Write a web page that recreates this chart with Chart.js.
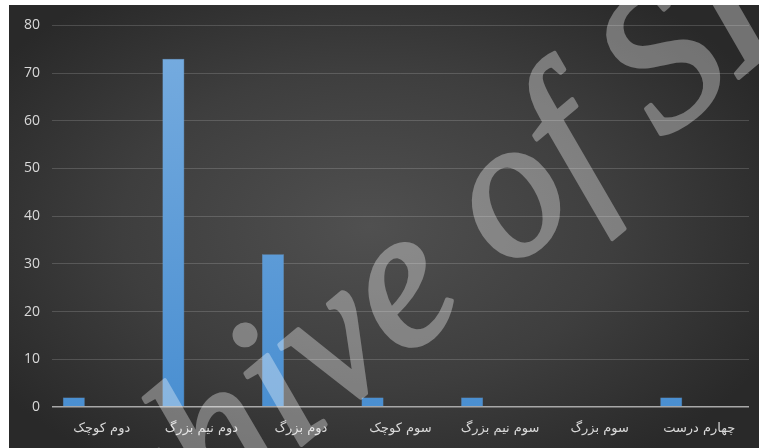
<!DOCTYPE html>
<html lang="fa">

<head>
    <meta charset="UTF-8">
    <title>فواصل</title>
    <script src="https://cdn.jsdelivr.net/npm/chart.js"></script>
    <style>
        html, body { margin: 0; padding: 0; background: #fff; }
        .quadro {
            position: absolute;
            left: 9px;
            top: 5px;
            width: 750px;
            height: 443px;
            background: radial-gradient(ellipse 60% 65% at 48% 50%, #505050 0%, #3e3e3e 55%, #292929 100%);
        }
    </style>
</head>

<body>
    <div class="quadro">
        <canvas id="grafico" width="750" height="443"></canvas>
    </div>

    <script>
        // categorias e valores
        const categorias = ['دوم کوچک', 'دوم نیم بزرگ', 'دوم بزرگ', 'سوم کوچک', 'سوم نیم بزرگ', 'سوم بزرگ', 'چهارم درست'];
        const valores = [2, 73, 32, 2, 2, 0, 2];
        const vazio = [null, null, null, null, null, null, null];
        const ticksY = [0, 10, 20, 30, 40, 50, 60, 70, 80];

        // marca d'agua diagonal (desenhada num canvas auxiliar e depois aplicada com transparencia)
        const marcaDagua = {
            id: 'marcaDagua',
            afterDraw(chart) {
                const ctx = chart.ctx;
                const aux = document.createElement('canvas');
                aux.width = chart.width;
                aux.height = chart.height;
                const a = aux.getContext('2d');
                const ang = -40 * Math.PI / 180;
                a.font = 'italic 198px "Liberation Serif"';
                const pre = a.measureText('Archiv').width;
                const eW = a.measureText('e').width;
                const ux = Math.cos(ang), uy = Math.sin(ang);
                const bx = 436 - 9, by = 332 - 5;
                const ox = bx - (pre + eW / 2) * ux;
                const oy = by - (pre + eW / 2) * uy;
                a.translate(ox, oy);
                a.rotate(ang);
                a.fillStyle = '#fff';
                a.strokeStyle = '#fff';
                a.lineWidth = 4;
                a.lineJoin = 'round';
                a.fillText('Archive of SID', 0, 0);
                a.strokeText('Archive of SID', 0, 0);
                ctx.save();
                ctx.globalAlpha = 0.34;
                ctx.drawImage(aux, 0, 0);
                ctx.restore();
            }
        };

        function corBarra(context) {
            const area = context.chart.chartArea;
            if (!area) return '#5b9bd5';
            const g = context.chart.ctx.createLinearGradient(0, area.top, 0, area.bottom);
            g.addColorStop(0, '#78ade0');
            g.addColorStop(1, '#4a8fd1');
            return g;
        }

        const ctx = document.getElementById('grafico').getContext('2d');
        new Chart(ctx, {
            type: 'bar',
            data: {
                labels: categorias,
                datasets: [
                    { data: valores, backgroundColor: corBarra, borderColor: 'rgba(110,165,220,0.9)', borderWidth: 0.5 },
                    { data: vazio },
                    { data: vazio }
                ]
            },
            options: {
                responsive: false,
                animation: false,
                categoryPercentage: 0.843,
                barPercentage: 0.786,
                layout: { padding: { top: 19, right: 10, left: 0, bottom: 0 } },
                plugins: {
                    legend: { display: false },
                    tooltip: { enabled: false }
                },
                scales: {
                    x: {
                        grid: { display: false },
                        border: { display: false },
                        ticks: {
                            color: '#d9d9d9',
                            font: { family: '"DejaVu Sans"', size: 13 },
                            padding: 6,
                            maxRotation: 0,
                            autoSkip: false
                        },
                        afterFit(scale) { scale.height = 41; }
                    },
                    y: {
                        min: 0,
                        max: 80,
                        afterBuildTicks(scale) { scale.ticks = ticksY.map(v => ({ value: v })); },
                        grid: {
                            drawTicks: false,
                            color: ctx => ctx.tick && ctx.tick.value === 0 ? '#a8a8a8' : 'rgba(255,255,255,0.16)',
                            lineWidth: ctx => ctx.tick && ctx.tick.value === 0 ? 1.5 : 1
                        },
                        border: { display: false },
                        ticks: {
                            color: '#d9d9d9',
                            font: { family: '"Open Sans"', size: 14 },
                            padding: 12
                        },
                        afterFit(scale) { scale.width = 43; }
                    }
                }
            },
            plugins: [marcaDagua]
        });
    </script>
</body>

</html>
